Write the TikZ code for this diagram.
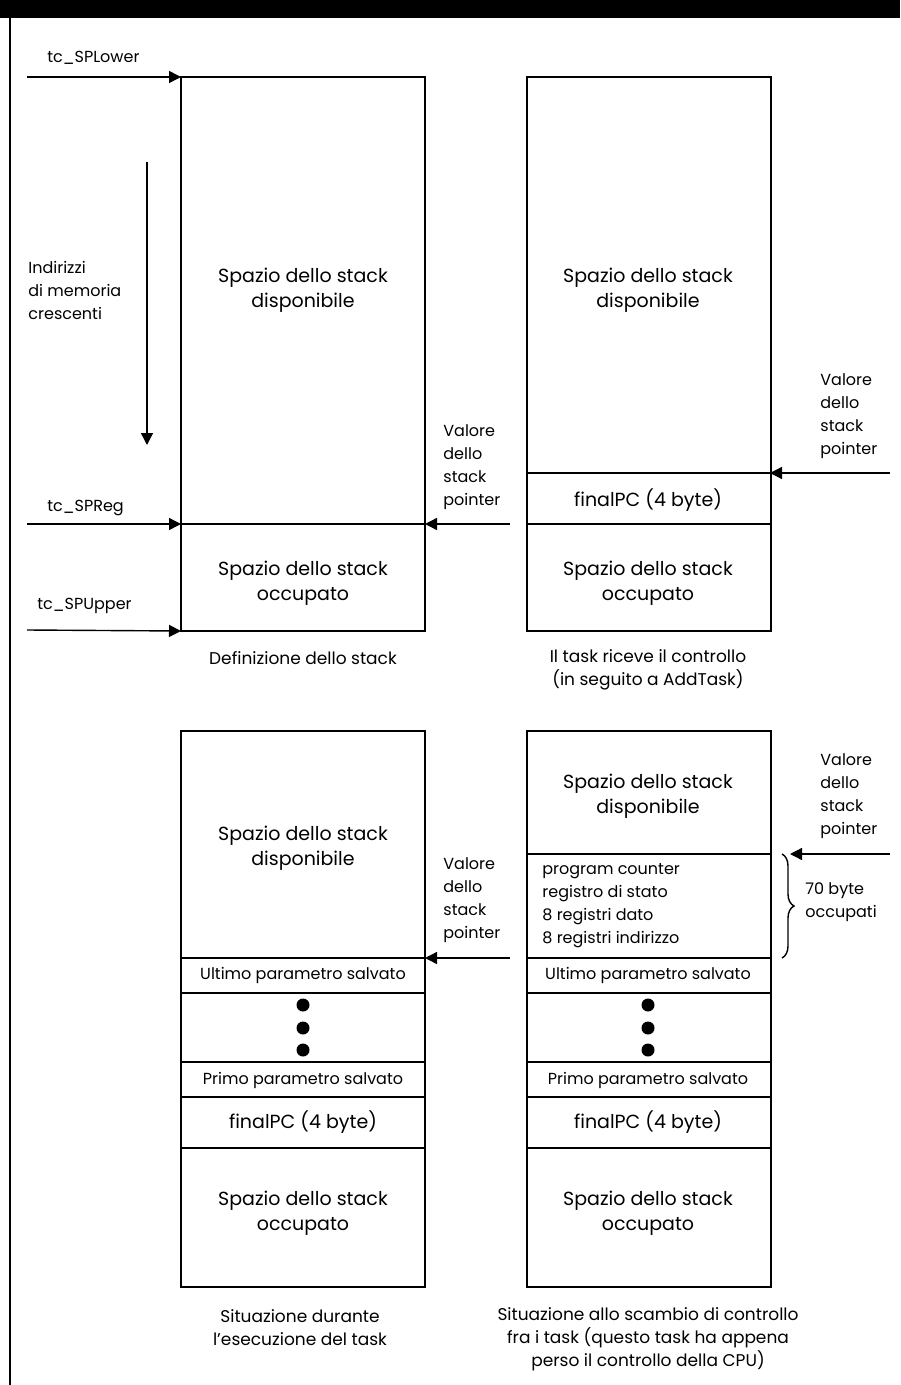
\documentclass[tikz,border=0pt]{standalone}
\usepackage{fontspec}
\setmainfont{Poppins}
\usepackage{tikz}
\usetikzlibrary{arrows.meta,calc,positioning,decorations.pathreplacing}

\tikzset{
  stackbox/.style={draw, line width=1.4pt, anchor=north west, outer sep=0pt,
    minimum width=122pt, inner sep=0pt},
  divider/.style={line width=1pt},
  bigtext/.style={font=\fontsize{9.5}{12.5}\selectfont, align=center},
  celltext/.style={font=\fontsize{8}{10}\selectfont, align=center},
  sidetext/.style={font=\fontsize{8}{11.5}\selectfont, align=left, anchor=west, inner sep=0pt},
  captext/.style={font=\fontsize{8.5}{11.5}\selectfont, align=center},
  ptr/.style={-{Triangle[length=6pt,width=6pt]}, line width=0.7pt},
  dot/.style={circle, fill, inner sep=0pt, minimum size=6.5pt}
}

\begin{document}
\begin{tikzpicture}[x=0.5pt,y=-0.5pt]
\useasboundingbox (0,0) rectangle (900,1385);
% cornice
\fill (0,0) rectangle (900,18);
\draw[line width=1pt] (10,18) -- (10,1385);
%
% --- Definizione dello stack ---
\node[stackbox, minimum height=277pt] (defbox) at (181,77) {};
\coordinate (defsplit) at (181,524);
\coordinate (defsplitR) at (425,524);
\draw[line width=1.4pt] (defsplit) -- (defsplitR);
\node[bigtext] (defdisp) at (303,290) {Spazio dello stack\\disponibile};
\node[bigtext] (defocc) at (303,583) {Spazio dello stack\\occupato};
\coordinate (lowerIn) at (27,77);
\coordinate (regIn) at (27,524);
\coordinate (upperIn) at (27,630);
\draw[ptr] (lowerIn) -- (defbox.north west);
\draw[ptr] (regIn) -- (defsplit);
\draw[ptr] (upperIn) -- (defbox.south west);
\node[sidetext] (lowerlbl) at (47,58) {tc\_SPLower};
\node[sidetext] (reglbl) at (47,508) {tc\_SPReg};
\node[sidetext] (upperlbl) at (37,606) {tc\_SPUpper};
\coordinate (growTop) at (147,162);
\coordinate (growBot) at (147,445);
\draw[ptr] (growTop) -- (growBot);
\node[sidetext] (growlbl) at (28,290) {Indirizzi\\di memoria\\crescenti};
\coordinate (defspIn) at (510,524);
\draw[ptr] (defspIn) -- (defsplitR);
\node[sidetext] (defsplbl) at (443,467) {Valore\\dello\\stack\\pointer};
\node[captext] (defcap) at (303,658) {Definizione dello stack};
%
% --- Il task riceve il controllo ---
\node[stackbox, minimum height=277pt] (ctrlbox) at (527,77) {};
\coordinate (ctrlsp) at (770,473);
\draw[divider] (527,473) -- (ctrlsp);
\draw[divider] (527,524) -- (770,524);
\node[bigtext] (ctrldisp) at (648,290) {Spazio dello stack\\disponibile};
\node[bigtext] (ctrlpc) at (648,500) {finalPC (4 byte)};
\node[bigtext] (ctrlocc) at (648,583) {Spazio dello stack\\occupato};
\coordinate (ctrlspIn) at (890,473);
\draw[ptr] (ctrlspIn) -- (ctrlsp);
\node[sidetext] (ctrlsplbl) at (820,416) {Valore\\dello\\stack\\pointer};
\node[captext] (ctrlcap) at (648,670) {Il task riceve il controllo\\(in seguito a AddTask)};
%
% --- Situazione durante l'esecuzione ---
\node[stackbox, minimum height=278pt] (runbox) at (181,731) {};
\coordinate (runsp) at (425,958);
\draw[divider] (181,958) -- (runsp);
\foreach \yy in {993,1062,1097,1148}
  \draw[divider] (181,\yy) -- (425,\yy);
\node[bigtext] (rundisp) at (303,848) {Spazio dello stack\\disponibile};
\node[celltext] (runlast) at (303,975) {Ultimo parametro salvato};
\foreach \yy in {1005,1028,1050}
  \node[dot] at (303,\yy) {};
\node[celltext] (runfirst) at (303,1080) {Primo parametro salvato};
\node[bigtext] (runpc) at (303,1122) {finalPC (4 byte)};
\node[bigtext] (runocc) at (303,1213) {Spazio dello stack\\occupato};
\coordinate (runspIn) at (510,958);
\draw[ptr] (runspIn) -- (runsp);
\node[sidetext] (runsplbl) at (443,900) {Valore\\dello\\stack\\pointer};
\node[captext] (runcap) at (300,1328) {Situazione durante\\l'esecuzione del task};
%
% --- Situazione allo scambio di controllo ---
\node[stackbox, minimum height=278pt] (swapbox) at (527,731) {};
\draw[divider] (527,854) -- (770,854);
\foreach \yy in {958,993,1062,1097,1148}
  \draw[divider] (527,\yy) -- (770,\yy);
\node[bigtext] (swapdisp) at (648,796) {Spazio dello stack\\disponibile};
\node[sidetext] (swapregs) at (542,906) {program counter\\registro di stato\\8 registri dato\\8 registri indirizzo};
\node[celltext] (swaplast) at (648,975) {Ultimo parametro salvato};
\foreach \yy in {1005,1028,1050}
  \node[dot] at (648,\yy) {};
\node[celltext] (swapfirst) at (648,1080) {Primo parametro salvato};
\node[bigtext] (swappc) at (648,1122) {finalPC (4 byte)};
\node[bigtext] (swapocc) at (648,1213) {Spazio dello stack\\occupato};
\coordinate (swapspIn) at (890,854);
\coordinate (swapsp) at (790,854);
\draw[ptr] (swapspIn) -- (swapsp);
\node[sidetext] (swapsplbl) at (820,796) {Valore\\dello\\stack\\pointer};
\coordinate (braceTop) at (782,854);
\coordinate (braceBot) at (782,958);
\draw[line width=0.7pt, decorate, decoration={brace, amplitude=6pt}] (braceTop) -- (braceBot);
\node[sidetext] (swapbytes) at (805,902) {70 byte\\occupati};
\node[captext] (swapcap) at (648,1339) {Situazione allo scambio di controllo\\fra i task (questo task ha appena\\perso il controllo della CPU)};
%
\end{tikzpicture}
\end{document}
